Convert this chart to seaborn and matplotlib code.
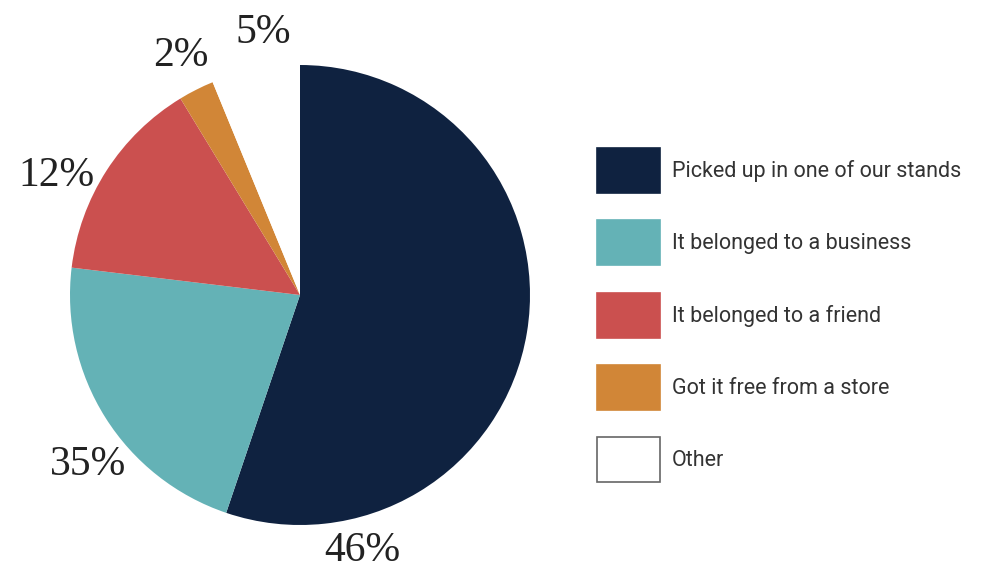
import matplotlib
matplotlib.use("Agg")
import matplotlib.pyplot as plt
import matplotlib.patches as mpatches
import seaborn as sns

# Datos
categorias = [
    "Picked up in one of our stands",
    "It belonged to a business",
    "It belonged to a friend",
    "Got it free from a store",
    "Other",
]
# tamaño de cada porción tal como está dibujada
porciones = [55.2, 21.7, 14.4, 2.5, 6.2]
# porcentaje que muestra cada etiqueta
etiquetas = ["46%", "35%", "12%", "2%", "5%"]
colores = ["#0f2240", "#64b2b6", "#cb504f", "#d18637", "#ffffff"]

# posición de las etiquetas (coordenadas del pie, radio 1)
pos_etiquetas = [(0.27, -1.11), (-0.92, -0.74), (-1.06, 0.52), (-0.52, 1.04), (-0.16, 1.14)]

sns.set_style("white")
plt.rcParams["font.family"] = ["Roboto", "DejaVu Sans"]

fig = plt.figure(figsize=(9.89, 5.72), dpi=100)
ax = fig.add_axes([70 / 989, 47 / 572, 460 / 989, 460 / 572])

ax.pie(porciones, colors=colores, startangle=90, counterclock=False,
       wedgeprops=dict(linewidth=0))
ax.set_xlim(-1, 1)
ax.set_ylim(-1, 1)
ax.axis("off")

for texto, (x, y) in zip(etiquetas, pos_etiquetas):
    ax.text(x, y, texto, ha="center", va="center", fontsize=30,
            family=["Liberation Serif", "DejaVu Serif"], color="#222222",
            clip_on=False)

# Leyenda con cajas grandes
handles = []
for color in colores:
    borde = "#666666" if color == "#ffffff" else color
    handles.append(mpatches.Patch(facecolor=color, edgecolor=borde, linewidth=1.2))

fig.legend(handles, categorias, loc="upper left",
           bbox_to_anchor=(597 / 989, 1 - 148 / 572),
           frameon=False, prop=dict(family=["Roboto", "DejaVu Sans"], size=15.5),
           borderpad=0, borderaxespad=0,
           handlelength=2.93, handleheight=2.85, handletextpad=0.56,
           labelspacing=1.26, labelcolor="#333333")

fig.savefig("out.png", dpi=100)
